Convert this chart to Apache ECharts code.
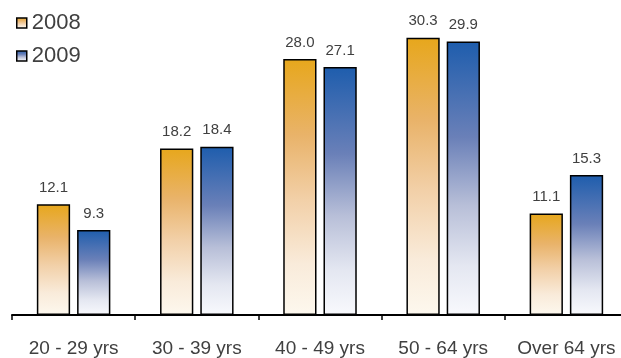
<!DOCTYPE html>
<html>
<head>
<meta charset="utf-8">
<script src="https://cdn.jsdelivr.net/npm/echarts@6/dist/echarts.min.js"></script>
<style>
  html, body { margin: 0; padding: 0; background: #fff; overflow: hidden; }
  #chart { width: 621px; height: 358px; }
</style>
</head>
<body>
<div id="chart"></div>
<script>
// Age bands and the share for each year
const categories = ['20 - 29 yrs', '30 - 39 yrs', '40 - 49 yrs', '50 - 64 yrs', 'Over 64 yrs'];
const values2008 = [12.1, 18.2, 28.0, 30.3, 11.1];
const values2009 = [9.3, 18.4, 27.1, 29.9, 15.3];

const FONT = '"Liberation Sans", Arial, sans-serif';

function fade(stops) {
  return new echarts.graphic.LinearGradient(0, 0, 0, 1,
    stops.map(([offset, color]) => ({ offset, color })));
}

const orangeFade = [[0, '#E7A71C'], [0.3, '#E9B36A'], [0.55, '#F2D0A8'], [0.8, '#F9EBDA'], [1, '#FDF8EE']];
const blueFade = [[0, '#1E5DAD'], [0.35, '#6A80B8'], [0.6, '#B8BFD8'], [0.82, '#E4E7F1'], [1, '#F8F9FD']];

function barSeries(name, data, stops) {
  return {
    name: name,
    type: 'bar',
    data: data,
    barWidth: '27%',
    barGap: '21%',
    itemStyle: {
      color: fade(stops),
      borderColor: '#000',
      borderWidth: 1.5
    },
    label: {
      show: true,
      position: 'top',
      distance: 9,
      color: '#404040',
      fontFamily: FONT,
      fontSize: 15,
      formatter: p => p.value.toFixed(1)
    }
  };
}

const chart = echarts.init(document.getElementById('chart'), null, { renderer: 'canvas' });
chart.setOption({
  animation: false,
  backgroundColor: '#fff',
  grid: { left: 12, width: 616, top: 4, bottom: 43, containLabel: false, outerBoundsMode: 'none' },
  legend: {
    orient: 'vertical',
    left: 16,
    top: 12,
    padding: 0,
    itemWidth: 10,
    itemHeight: 10,
    itemGap: 11,
    icon: 'rect',
    itemStyle: { borderColor: '#000', borderWidth: 1.5 },
    textStyle: { fontFamily: FONT, fontSize: 22, color: '#404040' },
    data: ['2008', '2009']
  },
  xAxis: {
    type: 'category',
    data: categories,
    offset: 2,
    axisLine: { lineStyle: { color: '#000', width: 2 } },
    axisTick: { show: true, interval: 0, length: 5, inside: false, lineStyle: { color: '#000', width: 1.5 } },
    axisLabel: { interval: 0, color: '#404040', fontFamily: FONT, fontSize: 19, margin: 22 }
  },
  yAxis: {
    type: 'value',
    min: 0,
    max: 34,
    show: false,
    splitLine: { show: false }
  },
  series: [
    barSeries('2008', values2008, orangeFade),
    barSeries('2009', values2009, blueFade)
  ]
});
</script>
</body>
</html>
